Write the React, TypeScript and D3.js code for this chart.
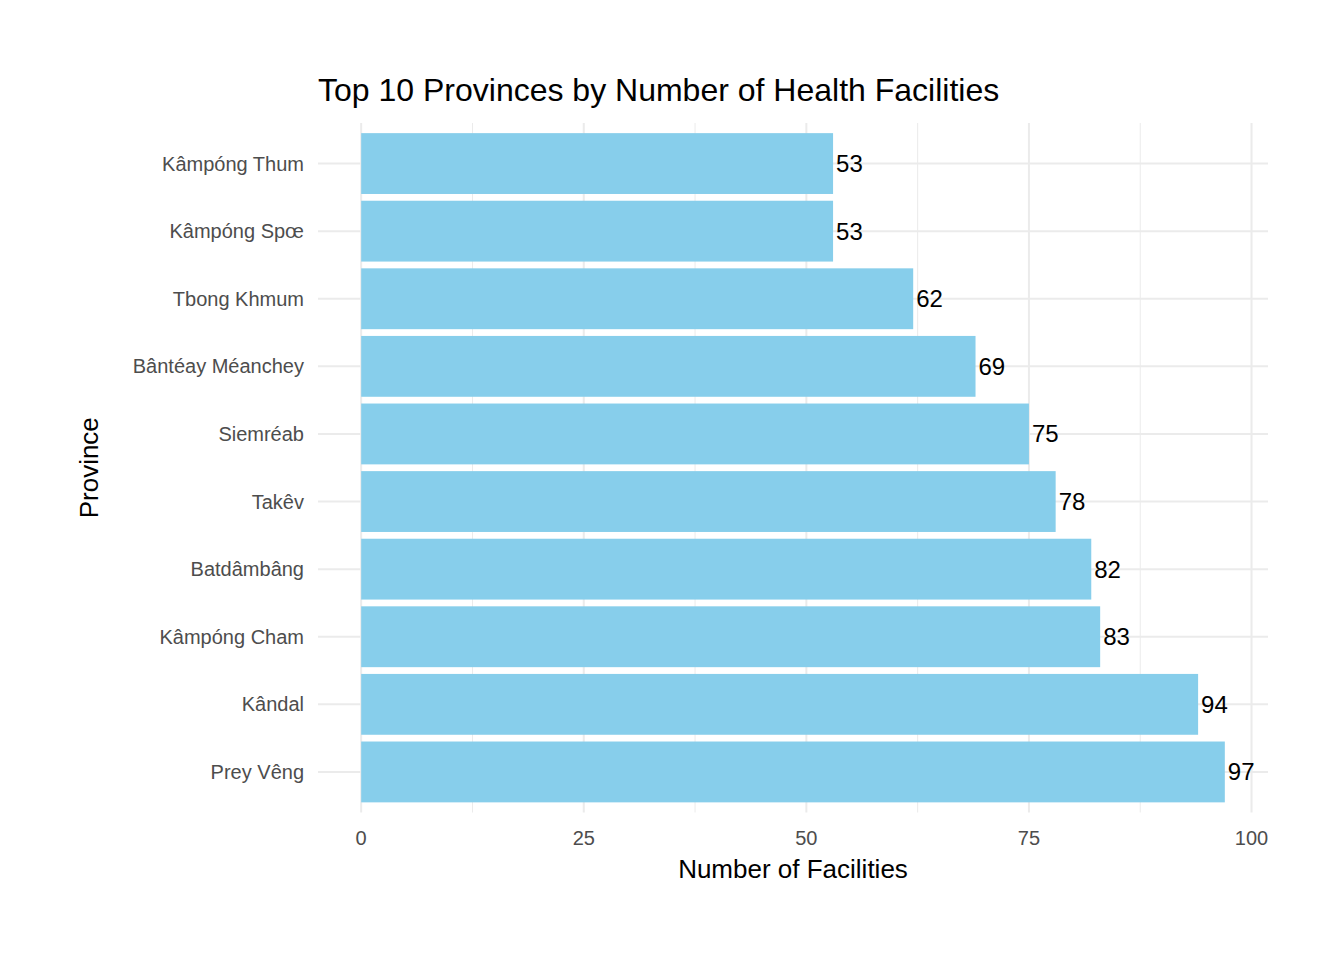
import React from "react";
import * as d3 from "d3";

const provinces = ["Kâmpóng Thum","Kâmpóng Spœ","Tbong Khmum","Bântéay Méanchey","Siemréab","Takêv","Batdâmbâng","Kâmpóng Cham","Kândal","Prey Vêng"];
const counts = [53,53,62,69,75,78,82,83,94,97];
const xTicks = [0,25,50,75,100];
const xMinor = [12.5,37.5,62.5,87.5];

export default function App() {
  const W = 1344, H = 960;
  const left = 318, right = 1268, top = 123, bottom = 812.5;
  const maxV = d3.max(counts) as number;
  const x = d3.scaleLinear().domain([-0.05 * maxV, maxV * 1.05]).range([left, right]);
  const step = (bottom - top) / (provinces.length - 1 + 1.2);
  const y = (i: number) => top + step * (0.6 + i);
  const bh = step * 0.9;
  const font = "Liberation Sans, Arial, sans-serif";
  return (
    <svg width={W} height={H} style={{ position: "absolute", left: 0, top: 0, background: "#fff" }} fontFamily={font}>
      {xMinor.map(v => <line key={"m"+v} x1={x(v)} x2={x(v)} y1={top} y2={bottom} stroke="#ebebeb" strokeWidth={1} />)}
      {xTicks.map(v => <line key={"M"+v} x1={x(v)} x2={x(v)} y1={top} y2={bottom} stroke="#ebebeb" strokeWidth={2} />)}
      {provinces.map((p, i) => <line key={"g"+p} x1={left} x2={right} y1={y(i)} y2={y(i)} stroke="#ebebeb" strokeWidth={2} />)}
      {provinces.map((p, i) => (
        <g key={p}>
          <rect x={x(0)} y={y(i) - bh / 2} width={x(counts[i]) - x(0)} height={bh} fill="#87CEEB" />
          <text x={x(counts[i]) + 3} y={y(i)} dy="0.35em" fontSize={24} fill="#000">{counts[i]}</text>
          <text x={304} y={y(i)} dy="0.35em" textAnchor="end" fontSize={20} fill="#4d4d4d">{p}</text>
        </g>
      ))}
      {xTicks.map(v => <text key={"t"+v} x={x(v)} y={845} textAnchor="middle" fontSize={20} fill="#4d4d4d">{v}</text>)}
      <text x={(left + right) / 2} y={878} textAnchor="middle" fontSize={26} fill="#000">Number of Facilities</text>
      <text transform={`translate(98,${(top + bottom) / 2}) rotate(-90)`} textAnchor="middle" fontSize={26} fill="#000">Province</text>
      <text x={318} y={101} fontSize={32} fill="#000">Top 10 Provinces by Number of Health Facilities</text>
    </svg>
  );
}
